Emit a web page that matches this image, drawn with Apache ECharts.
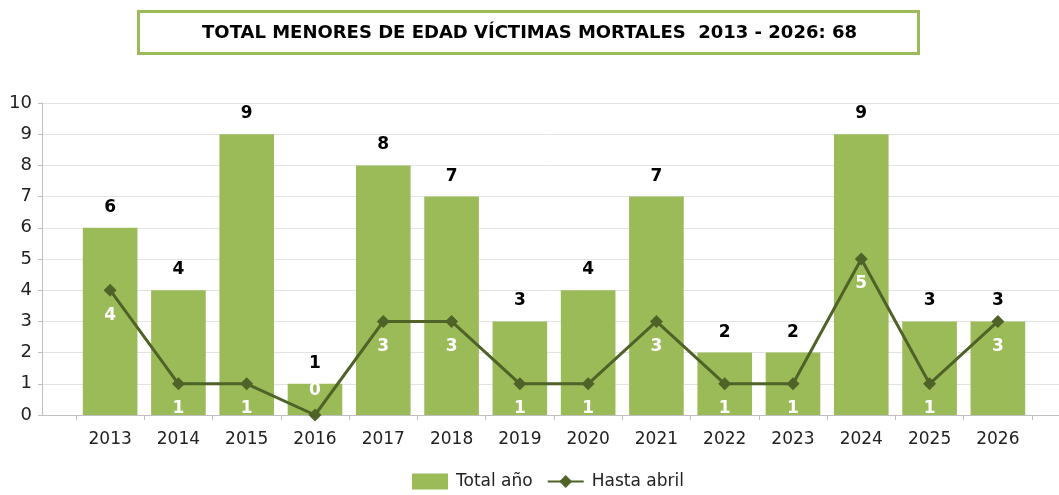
<!DOCTYPE html>
<html>
<head>
<meta charset="utf-8">
<script src="https://cdn.jsdelivr.net/npm/echarts@6/dist/echarts.min.js"></script>
<style>
  html, body { margin: 0; padding: 0; background: #fff; }
  #chart { width: 1059px; height: 495px; }
</style>
</head>
<body>
<div id="chart"></div>
<script>
const years = ["2013", "2014", "2015", "2016", "2017", "2018", "2019", "2020", "2021", "2022", "2023", "2024", "2025", "2026"]
const totalAnio = [6, 4, 9, 1, 8, 7, 3, 4, 7, 2, 2, 9, 3, 3]
const hastaAbril = [4, 1, 1, 0, 3, 3, 1, 1, 3, 1, 1, 5, 1, 3]
const yTicks = [0, 10, 1]

const barColor = "#9bbb59"
const lineColor = "#4f6228"
const font = "DejaVu Sans"

const chart = echarts.init(document.getElementById("chart"), null, { renderer: "canvas" })

const option = {
  animation: false,
  title: {
    text: "TOTAL MENORES DE EDAD VÍCTIMAS MORTALES  2013 - 2026: 68",
    left: "center",
    top: 19,
    textStyle: { fontFamily: "DejaVu Sans", fontWeight: "bold", fontSize: 18, color: "#000" },
  },
  graphic: [
    {
      type: "rect",
      left: 136,
      top: 9,
      shape: { width: 780, height: 42 },
      style: { fill: "none", stroke: barColor, lineWidth: 3 },
    },
  ],
  legend: {
    bottom: 0,
    left: 407,
    itemGap: 14,
    textStyle: { fontFamily: font, fontSize: 17, color: "#222", padding: [0, 0, 0, 3] },
    data: [
      { name: "Total año", icon: "rect", itemStyle: { color: barColor } },
      { name: "Hasta abril" },
    ],
    itemWidth: 36,
    itemHeight: 16,
  },
  grid: [
    { left: 42, right: 0, top: 103, bottom: 80 },
    { left: 76, right: 27, top: 103, bottom: 80 },
  ],
  xAxis: [
    {
      gridIndex: 0,
      type: "value",
      min: 0,
      max: 1,
      axisLine: { show: true, lineStyle: { color: "#bfbfbf", width: 1 } },
      axisTick: { show: false },
      axisLabel: { show: false },
      splitLine: { show: false },
    },
    {
      gridIndex: 1,
      type: "category",
      data: years,
      axisLine: { show: false },
      axisTick: { show: true, length: 5, lineStyle: { color: "#bfbfbf" } },
      axisLabel: { fontFamily: font, fontSize: 17, color: "#222", margin: 16 },
    },
  ],
  yAxis: [
    {
      gridIndex: 0,
      type: "value",
      min: yTicks[0],
      max: yTicks[1],
      interval: yTicks[2],
      axisLine: { show: true, lineStyle: { color: "#bfbfbf" } },
      axisTick: { show: true, length: 4, lineStyle: { color: "#bfbfbf" } },
      axisLabel: { fontFamily: font, fontSize: 18, color: "#222", margin: 10 },
      splitLine: { lineStyle: { color: "#e3e3e3", width: 1 } },
    },
    {
      gridIndex: 1,
      type: "value",
      min: yTicks[0],
      max: yTicks[1],
      show: false,
      splitLine: { show: false },
    },
  ],
  series: [
    {
      name: "Total año",
      type: "bar",
      xAxisIndex: 1,
      yAxisIndex: 1,
      data: totalAnio,
      barCategoryGap: "20%",
      itemStyle: { color: barColor },
      label: {
        show: true,
        position: "top",
        distance: 12,
        fontFamily: font,
        fontWeight: "bold",
        fontSize: 17,
        color: "#000",
      },
    },
    {
      name: "Hasta abril",
      type: "line",
      xAxisIndex: 1,
      yAxisIndex: 1,
      data: hastaAbril.map((v) => ({
        value: v,
        label: { position: v === 0 ? "top" : "bottom", distance: v === 0 ? 9 : 10 },
      })),
      symbol: "diamond",
      symbolSize: 13,
      itemStyle: { color: lineColor },
      lineStyle: { color: lineColor, width: 3 },
      label: {
        show: true,
        fontFamily: font,
        fontWeight: "bold",
        fontSize: 17,
        color: "#fff",
      },
      z: 5,
    },
  ],
}

chart.setOption(option)
</script>
</body>
</html>
